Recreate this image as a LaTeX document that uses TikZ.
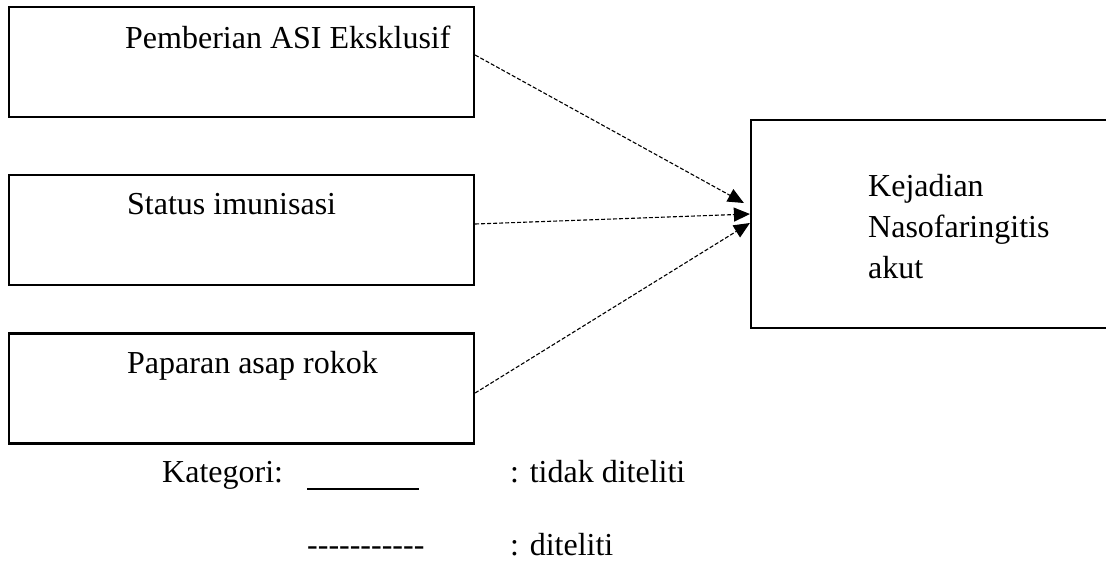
\documentclass[tikz,border=0pt]{standalone}
\usepackage{fontspec}
\setmainfont{Liberation Serif}
\newfontfamily\plainfont{Liberation Serif}
\usetikzlibrary{arrows.meta}
\begin{document}
\begin{tikzpicture}[x=1pt,y=-1pt,
  every node/.style={font=\fontsize{32}{41}\selectfont},
  varbox/.style={draw,line width=2.2pt,inner sep=0pt,minimum width=465pt,minimum height=110pt},
  lbl/.style={anchor=base west,inner sep=0pt},
  link/.style={line width=1.1pt,dash pattern=on 4pt off 2pt,-{Triangle[length=16pt,width=14pt]}}]
\useasboundingbox (0,0) rectangle (1106,566);
\begin{scope}
\clip (0,0) rectangle (1106,566);
% boxes
\node[varbox] (b1) at (241.5,62) {};
\node[varbox] (b2) at (241.5,230) {};
\node[varbox] (b3) at (241.5,388.5) {};
\node[draw,line width=2.2pt,inner sep=0pt,minimum width=369pt,minimum height=208pt] (k) at (935.5,224) {};
\end{scope}
% texts
\node[lbl] (t1) at (125,48) {Pemberian ASI Eksklusif};
\node[lbl] (t2) at (127,214) {Status imunisasi};
\node[lbl] (t3) at (127,373) {Paparan asap rokok};
\node[lbl,align=left] (tk) at (868,278) {Kejadian\\Nasofaringitis\\akut};
% connectors
\draw[link] ([yshift=7pt]b1.east) -- ([xshift=-6pt,yshift=21pt]k.west);
\draw[link] ([yshift=6pt]b2.east) -- ([yshift=10pt]k.west);
\draw[link] ([yshift=-4.5pt]b3.east) -- ([yshift=1pt]k.west);
% legend
\node[lbl] (kat) at (162,482) {Kategori:};
\coordinate (s1) at (307,489);
\coordinate (s2) at (419,489);
\draw[line width=2.5pt] (s1) -- (s2);
\node[lbl] (l1) at (510,482) {: tidak diteliti};
\node[lbl,font=\plainfont\fontsize{32}{41}\selectfont] (dd) at (307,555) {-----------};
\node[lbl] (l2) at (510,555) {: diteliti};
\end{tikzpicture}
\end{document}
